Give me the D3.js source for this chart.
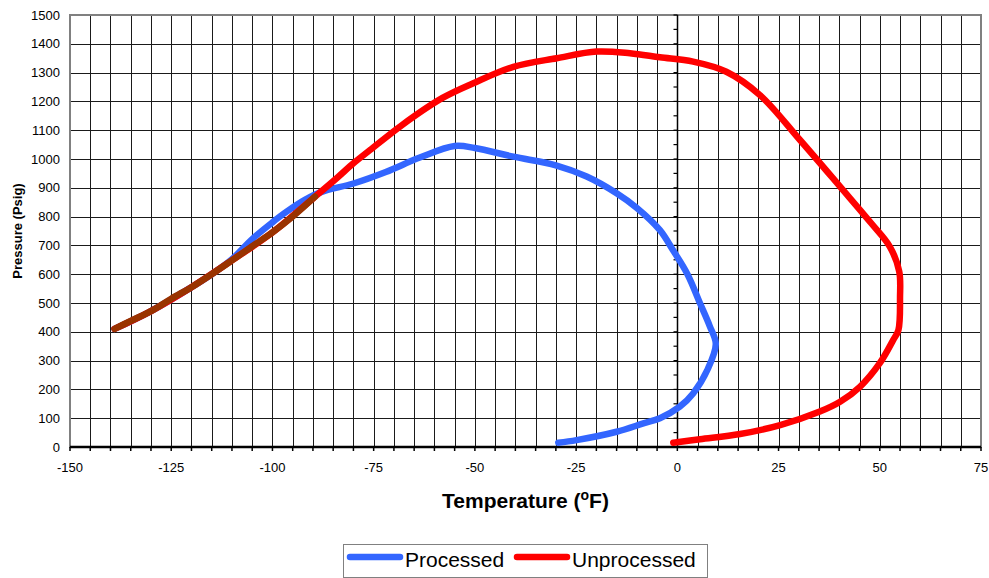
<!DOCTYPE html>
<html>
<head>
<meta charset="utf-8">
<script src="https://cdn.jsdelivr.net/npm/d3@7"></script>
<style>
  body { margin: 0; background: #fff; }
  svg { display: block; font-family: Arial, "Liberation Sans", sans-serif; }
  .grid line { stroke: #1a1a1a; stroke-width: 1; shape-rendering: crispEdges; }
  .tick-label { font-size: 13px; fill: #000; }
</style>
</head>
<body>
<svg id="chart" width="989" height="578"></svg>
<script>
// Temperature (F) / pressure (psig) points
const sharedTemp = [-139, -135, -130, -125, -120, -115, -110, -105, -100, -95, -89.5];
const sharedPres = [410, 438, 472, 515, 555, 600, 648, 697, 745, 800, 869];

const processedTemp = [-139, -130, -120, -115, -110, -105, -100, -96.5, -92, -88, -80, -72, -63.6, -55, -50, -40.5, -30, -22.4, -15, -10, -4.3, -1.1, 2.5, 5.6, 8, 9.5, 7.5, 3.9, 0.6, -4.3, -8.4, -15, -24.9, -29.4];
const processedPres = [410, 472, 555, 600, 652, 722, 780, 817, 858, 885, 915, 955, 1005, 1045, 1038, 1008, 978, 939, 881, 830, 753, 684, 600, 499, 420, 358, 270, 186, 140, 100, 82, 53, 24, 15];

const unprocessedTemp = [-139, -130, -120, -110, -100, -89.5, -84, -80, -75.9, -68, -58, -50.4, -40.5, -29.8, -19.9, -11.7, -4.3, 3.9, 12.1, 20.4, 30.3, 40.2, 48, 52.5, 54.8, 55, 54.6, 53.3, 50, 45.1, 40.2, 35.2, 25.4, 15.5, 5.6, -1];
const unprocessedPres = [410, 472, 555, 648, 745, 869, 935, 985, 1031, 1118, 1212, 1263, 1320, 1350, 1373, 1367, 1353, 1338, 1303, 1222, 1066, 904, 775, 695, 610, 520, 406, 371, 291, 209, 157, 123, 76, 45, 27, 15];

const xTicks = [-150, -125, -100, -75, -50, -25, 0, 25, 50, 75];
const yTicks = [0, 100, 200, 300, 400, 500, 600, 700, 800, 900, 1000, 1100, 1200, 1300, 1400, 1500];

const margin = { top: 15, left: 70, right: 8, bottom: 131 };
const width = 989, height = 578;

const svg = d3.select('#chart');

const x = d3.scaleLinear().domain([-150, 75]).range([margin.left, width - margin.right]);
const y = d3.scaleLinear().domain([0, 1500]).range([height - margin.bottom, margin.top]);

// gridlines
const grid = svg.append('g').attr('class', 'grid');
grid.selectAll('.vg')
  .data(d3.range(-145, 75, 5))
  .enter().append('line')
  .attr('x1', d => Math.round(x(d)) + 0.5).attr('x2', d => Math.round(x(d)) + 0.5)
  .attr('y1', y(1500)).attr('y2', y(0));
grid.selectAll('.hg')
  .data(d3.range(100, 1500, 100))
  .enter().append('line')
  .attr('x1', x(-150)).attr('x2', x(75))
  .attr('y1', d => Math.round(y(d)) + 0.5).attr('y2', d => Math.round(y(d)) + 0.5);

// plot border
svg.append('rect')
  .attr('x', x(-150)).attr('y', y(1500))
  .attr('width', x(75) - x(-150)).attr('height', y(0) - y(1500))
  .attr('fill', 'none').attr('stroke', '#808080').attr('stroke-width', 2);

// y axis sits at T = 0 with minor ticks every 50
const x0 = Math.round(x(0)) + 0.5;
svg.append('line')
  .attr('x1', x0).attr('x2', x0).attr('y1', y(1500)).attr('y2', y(0))
  .attr('stroke', '#000').attr('stroke-width', 1.5);
svg.selectAll('.ytickmark')
  .data(d3.range(0, 1501, 50))
  .enter().append('line')
  .attr('x1', x0 - 4).attr('x2', x0)
  .attr('y1', d => y(d)).attr('y2', d => y(d))
  .attr('stroke', '#000').attr('stroke-width', 1.2);

// x axis at P = 0
const y0 = y(0);
svg.append('line')
  .attr('x1', x(-150)).attr('x2', x(75)).attr('y1', y0).attr('y2', y0)
  .attr('stroke', '#000').attr('stroke-width', 2.5);
svg.selectAll('.xtickmark')
  .data(d3.range(-150, 76, 5))
  .enter().append('line')
  .attr('x1', d => x(d)).attr('x2', d => x(d))
  .attr('y1', y0).attr('y2', y0 + 4)
  .attr('stroke', '#000').attr('stroke-width', 1.5);

// tick labels
svg.selectAll('.xl')
  .data(xTicks)
  .enter().append('text')
  .attr('class', 'tick-label')
  .attr('x', d => x(d)).attr('y', y0 + 24.5)
  .attr('text-anchor', 'middle')
  .text(d => d);
svg.selectAll('.yl')
  .data(yTicks)
  .enter().append('text')
  .attr('class', 'tick-label')
  .attr('x', x(-150) - 10).attr('y', d => y(d) + 4.5)
  .attr('text-anchor', 'end')
  .text(d => d);

// axis titles
svg.append('text')
  .attr('transform', `translate(21.5,${(y(0) + y(1500)) / 2}) rotate(-90)`)
  .attr('text-anchor', 'middle')
  .attr('font-size', 13).attr('font-weight', 'bold')
  .text('Pressure (Psig)');

const xt = svg.append('text')
  .attr('x', (x(-150) + x(75)) / 2).attr('y', 508)
  .attr('text-anchor', 'middle')
  .attr('font-size', 21).attr('font-weight', 'bold');
xt.append('tspan').text('Temperature (');
xt.append('tspan').attr('font-size', 14).attr('dy', -8).text('o');
xt.append('tspan').attr('dy', 8).text('F)');

// series
const toPts = (ts, ps) => ts.map((t, i) => [t, ps[i]]);
const smooth = d3.line().x(d => x(d[0])).y(d => y(d[1])).curve(d3.curveCatmullRom.alpha(0.5));

const series = [
  { pts: toPts(processedTemp, processedPres), color: '#3366FF' },
  { pts: toPts(unprocessedTemp, unprocessedPres), color: '#FF0000' },
  { pts: toPts(sharedTemp, sharedPres), color: '#993300' }
];

svg.selectAll('.series')
  .data(series)
  .enter().append('path')
  .attr('d', d => smooth(d.pts))
  .attr('fill', 'none')
  .attr('stroke', d => d.color)
  .attr('stroke-width', 6.5)
  .attr('stroke-linecap', 'round')
  .attr('stroke-linejoin', 'round');

// legend
const legend = svg.append('g');
legend.append('rect')
  .attr('x', 343.5).attr('y', 544.5).attr('width', 364).attr('height', 33)
  .attr('fill', '#fff').attr('stroke', '#808080').attr('stroke-width', 1);
const legendItems = [
  { label: 'Processed', color: '#3366FF', x: 350 },
  { label: 'Unprocessed', color: '#FF0000', x: 517 }
];
const li = legend.selectAll('.li').data(legendItems).enter().append('g');
li.append('line')
  .attr('x1', d => d.x).attr('x2', d => d.x + 50)
  .attr('y1', 557).attr('y2', 557)
  .attr('stroke', d => d.color).attr('stroke-width', 6.5).attr('stroke-linecap', 'round');
li.append('text')
  .attr('x', d => d.x + 55).attr('y', 567)
  .attr('font-size', 21)
  .text(d => d.label);
</script>
</body>
</html>
